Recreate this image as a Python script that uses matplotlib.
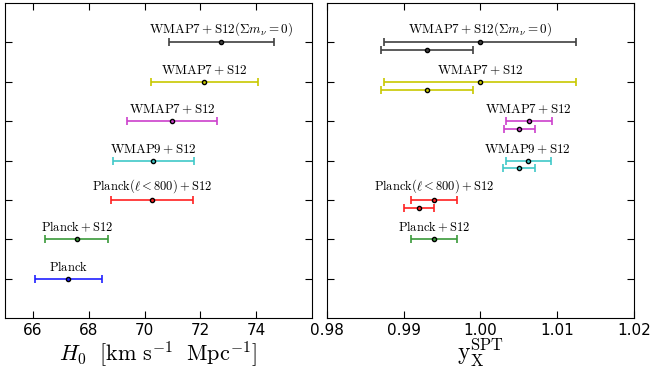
import matplotlib
matplotlib.use("Agg")
import matplotlib.pyplot as plt
import numpy as np

plt.rcParams['mathtext.fontset'] = 'cm'

# rows from bottom (1) to top (7)
labels = [r'$\mathrm{Planck}$',
          r'$\mathrm{Planck+S12}$',
          r'$\mathrm{Planck(\ell<800)+S12}$',
          r'$\mathrm{WMAP9+S12}$',
          r'$\mathrm{WMAP7+S12}$',
          r'$\mathrm{WMAP7+S12}$',
          r'$\mathrm{WMAP7+S12(\Sigma}m_\nu\mathrm{=0)}$']
label_sizes = [9, 9, 9, 9.4, 9.4, 9.4, 9.4]
colors = ['#2020ff', '#3a9a3a', '#ff2020', '#40c8c8', '#cc40cc', '#c8c800', '#404040']
rows = [1, 2, 3, 4, 5, 6, 7]

# H0 values: centre, lower err, upper err
h0 = [67.26, 67.57, 70.26, 70.32, 70.99, 72.14, 72.75]
h0_lo = [1.20, 1.12, 1.45, 1.44, 1.62, 1.90, 1.89]
h0_hi = [1.23, 1.12, 1.47, 1.44, 1.62, 1.91, 1.89]

# yX^SPT, first set (on the row), None where absent
yx = [None, 0.994, 0.994, 1.0062, 1.0063, 1.000, 1.000]
yx_lo = [None, 0.003, 0.003, 0.0029, 0.0030, 0.0126, 0.0126]
yx_hi = [None, 0.003, 0.003, 0.0030, 0.0030, 0.0125, 0.0125]

# second set, drawn just below the row
yx2 = [None, None, 0.9920, 1.0050, 1.0051, 0.9930, 0.9930]
yx2_lo = [None, None, 0.0019, 0.0020, 0.0020, 0.0060, 0.0060]
yx2_hi = [None, None, 0.0019, 0.0021, 0.0020, 0.0061, 0.0061]

fig = plt.figure(figsize=(6.5, 3.69), dpi=100)
ax1 = fig.add_axes([0.0077, 0.138, 0.4723, 0.854])
ax2 = fig.add_axes([0.503, 0.138, 0.472, 0.854])

def draw(ax, x, lo, hi, y, c):
    ax.errorbar([x], [y], xerr=[[lo], [hi]], fmt='o', color=c, ecolor=c,
                mfc=c, mec='k', ms=3, capsize=3, elinewidth=1.2, capthick=1.2)

for i in range(len(rows)):
    draw(ax1, h0[i], h0_lo[i], h0_hi[i], rows[i], colors[i])
    ax1.text(h0[i], rows[i] + 0.12, labels[i], ha='center', va='bottom',
             fontsize=label_sizes[i])
    if yx[i] is not None:
        draw(ax2, yx[i], yx_lo[i], yx_hi[i], rows[i], colors[i])
        ax2.text(yx[i], rows[i] + 0.12, labels[i], ha='center', va='bottom',
                 fontsize=label_sizes[i])
    if yx2[i] is not None:
        draw(ax2, yx2[i], yx2_lo[i], yx2_hi[i], rows[i] - 0.2, colors[i])

ax1.set_xlim(65, 76)
ax1.set_xticks([66, 68, 70, 72, 74])
ax2.set_xlim(0.98, 1.02)
ax2.set_xticks([0.98, 0.99, 1.00, 1.01, 1.02])
ax2.set_xticklabels(['0.98', '0.99', '1.00', '1.01', '1.02'])

for ax in (ax1, ax2):
    ax.set_ylim(0, 8)
    ax.set_yticks(rows)
    ax.set_yticklabels([])
    ax.tick_params(direction='in', top=True, right=True, length=5, labelsize=11)

ax1.set_xlabel(r'$H_0\ \ [\mathrm{km\ s^{-1}\ \ Mpc^{-1}}]$', fontsize=16, labelpad=1)
ax2.set_xlabel(r'$\mathrm{y_X^{SPT}}$', fontsize=17, labelpad=-1)

fig.savefig('out.png', dpi=100)
